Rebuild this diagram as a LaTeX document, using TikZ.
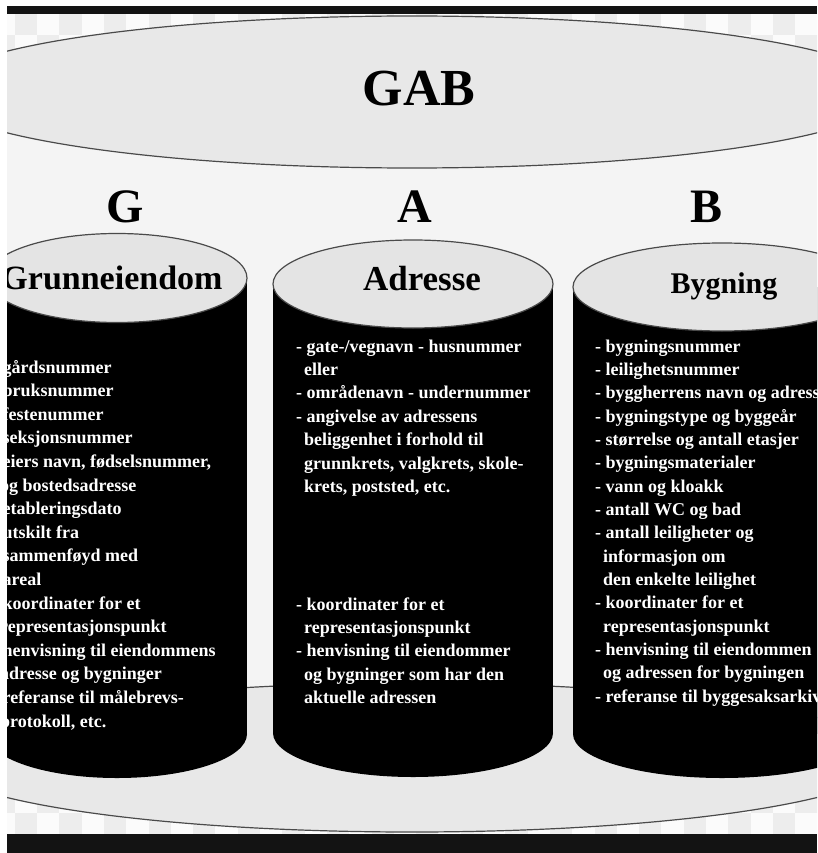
\documentclass[tikz,border=0pt]{standalone}
\usepackage{fontspec}
\setmainfont{Liberation Serif}
\definecolor{bodygrey}{HTML}{F4F4F4}
\definecolor{capgrey}{HTML}{E8E8E8}
\definecolor{topgrey}{HTML}{E4E4E4}
\definecolor{edgegrey}{HTML}{4A4A4A}
\definecolor{checkgrey}{HTML}{EDEDED}
\definecolor{paper}{HTML}{FBFBFB}
\definecolor{barblack}{HTML}{131313}
\newcommand\ctn{\hspace*{8pt}}
\tikzset{
  bigtitle/.style={font=\bfseries\fontsize{#1}{#1}\selectfont, inner sep=0pt, anchor=base},
  itemtext/.style={font=\bfseries\fontsize{18}{22}\selectfont, text=white, inner sep=0pt, anchor=base west},
  capfill/.style={fill=capgrey, draw=edgegrey, line width=1.2pt},
  cyltop/.style={fill=topgrey, draw=edgegrey, line width=1.2pt},
}
\begin{document}
\begin{tikzpicture}[x=1pt,y=-1pt]
\useasboundingbox (0,0) rectangle (817,853);
\fill[white] (0,0) rectangle (817,853);
\begin{scope}
\clip (7,14) rectangle (817,834);
% transparency checker outside the big cylinder
\fill[paper] (7,14) rectangle (817,834);
\foreach \j in {-2,0,...,36} {
  \fill[checkgrey] ({14.7+22.3*\j},14) rectangle ++(22.3,21.5);
  \fill[checkgrey] ({14.7+22.3*(\j+1)},35.5) rectangle ++(22.3,21.5);
  \fill[checkgrey] ({14.7+22.3*\j},812.5) rectangle ++(22.3,21.5);
  \fill[checkgrey] ({14.7+22.3*(\j+1)},791) rectangle ++(22.3,21.5);
}
% big GAB cylinder
\fill[bodygrey] (-70,92) rectangle (900,757.5);
\path[capfill] (412,757.5) ellipse [x radius=480, y radius=74.5];
\path[capfill] (412,92) ellipse [x radius=480, y radius=76];
\node[bigtitle=52] (gab) at (419,106) {GAB};
\node[bigtitle=48] (lg) at (125,222) {G};
\node[bigtitle=48] (la) at (415,222) {A};
\node[bigtitle=48] (lb) at (706,222) {B};
% cylinder G
\fill[black] (-13,278) rectangle (247,734);
\fill[black] (117,734) ellipse [x radius=130, y radius=44];
\path[cyltop] (117,278) ellipse [x radius=130, y radius=44.5];
\node[bigtitle=34] (tg) at (112,289) {Grunneiendom};
% cylinder A
\fill[black] (273,284) rectangle (553,733);
\fill[black] (413,733) ellipse [x radius=140, y radius=44];
\path[cyltop] (413,284) ellipse [x radius=140, y radius=44];
\node[bigtitle=35] (ta) at (422,290) {Adresse};
% cylinder B
\fill[black] (573,287) rectangle (871,734);
\fill[black] (722,734) ellipse [x radius=149, y radius=44];
\path[cyltop] (722,287) ellipse [x radius=149, y radius=44];
\node[bigtitle=30] (tb) at (724,293) {Bygning};
% G list
\foreach \txt [count=\i from 0] in {
  - gårdsnummer, - bruksnummer, - festenummer, - seksjonsnummer,
  {- eiers navn, fødselsnummer,}, \ctn og bostedsadresse,
  - etableringsdato, - utskilt fra, - sammenføyd med, - areal,
  - koordinater for et, \ctn representasjonspunkt,
  - henvisning til eiendommens, \ctn adresse og bygninger,
  - referanse til målebrevs-, {\ctn protokoll, etc.}}
  \node[itemtext] (g\i) at (-8,{373+23.6*\i}) {\txt};
% A list
\foreach \txt [count=\i from 0] in {
  - gate-/vegnavn - husnummer, \ctn eller,
  - områdenavn - undernummer, - angivelse av adressens,
  \ctn beliggenhet i forhold til, {\ctn grunnkrets, valgkrets, skole-},
  {\ctn krets, poststed, etc.}}
  \node[itemtext] (a\i) at (296,{352+23.4*\i}) {\txt};
\foreach \txt [count=\i from 0] in {
  - koordinater for et, \ctn representasjonspunkt,
  - henvisning til eiendommer, \ctn og bygninger som har den,
  \ctn aktuelle adressen}
  \node[itemtext] (ak\i) at (296,{610+23.4*\i}) {\txt};
% B list
\foreach \txt [count=\i from 0] in {
  - bygningsnummer, - leilighetsnummer, - byggherrens navn og adresse,
  - bygningstype og byggeår, - størrelse og antall etasjer,
  - bygningsmaterialer, - vann og kloakk, - antall WC og bad,
  - antall leiligheter og, \ctn informasjon om, \ctn den enkelte leilighet,
  - koordinater for et, \ctn representasjonspunkt,
  - henvisning til eiendommen, \ctn og adressen for bygningen,
  - referanse til byggesaksarkiv}
  \node[itemtext] (b\i) at (595,{352+23.35*\i}) {\txt};
\end{scope}
% black bars of the frame
\fill[barblack] (7,6) rectangle (817,14);
\fill[barblack] (7,834) rectangle (817,853);
\end{tikzpicture}
\end{document}
